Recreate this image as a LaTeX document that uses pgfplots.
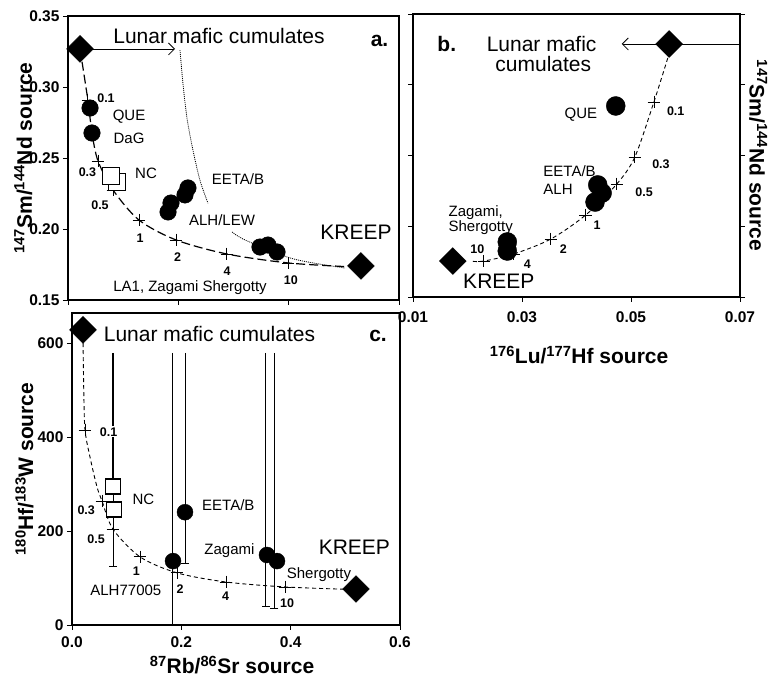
\documentclass[border=0pt]{standalone}
\usepackage{pgfplots}
\pgfplotsset{compat=1.18}
\usepackage{fontspec}
\setmainfont{Liberation Sans}
\usetikzlibrary{arrows.meta}
\newcommand{\fs}[1]{\fontsize{#1}{#1}\selectfont}
\tikzset{
  lbl/.style={font=\fs{15}, anchor=base, inner sep=0pt},
  num/.style={font=\bfseries\fs{12.5}, anchor=base, inner sep=0pt},
  big/.style={font=\fs{21}, anchor=base, inner sep=0pt},
}
\pgfplotsset{
  panel/.style={scale only axis, clip=false, axis line style={line width=1.8pt},
    tick align=outside, major tick length=5pt, scaled ticks=false,
    every tick/.style={black, line width=0.8pt},
    ticklabel style={font=\bfseries\fs{15.5}}},
  dia/.style={only marks, mark=square*, mark size=9.5pt, mark options={rotate=45, fill=black, draw=black}},
  dot/.style={only marks, mark=*, mark options={fill=black, draw=black}},
  crs/.style={only marks, mark=+, mark size=6.3pt, mark options={line width=0.8pt}},
  sq/.style={only marks, mark=square*, mark options={fill=white, draw=black, line width=1.8pt}},
}
\begin{document}
\begin{tikzpicture}
\useasboundingbox (0pt,0pt) rectangle (770pt,679pt);
% ---------------- panel a ----------------
\begin{axis}[panel, at={(68pt,379pt)}, anchor=south west, width=331pt, height=284pt,
  xmin=0, xmax=0.6, ymin=0.15, ymax=0.35,
  xtick={0,0.2,0.4,0.6}, xticklabels={,,,},
  ytick={0.15,0.2,0.25,0.3,0.35}, yticklabels={0.15,0.20,0.25,0.30,0.35},
  tick pos=left,
  every axis y label/.style={at={(axis description cs:-0.135,0.5)}, rotate=90, anchor=center, font=\bfseries\fs{21}},
  ylabel={\textsuperscript{147}Sm/\textsuperscript{144}Nd source}]
\addplot[black, line width=1.2pt, dash pattern=on 9pt off 4pt, smooth, tension=0.5] coordinates {
 (0.0218,0.3268) (0.036,0.2908) (0.0435,0.2676) (0.0544,0.2479) (0.0816,0.2275)
 (0.1287,0.2063) (0.1958,0.1923) (0.288,0.1824) (0.399,0.1761) (0.505,0.1735)};
\addplot[black, line width=0.8pt, dash pattern=on 1pt off 1pt, smooth] coordinates {
 (0.203,0.326) (0.2085,0.302) (0.2157,0.278) (0.2266,0.2553) (0.2393,0.2342) (0.2538,0.2181)};
\addplot[black, line width=0.8pt, dash pattern=on 1pt off 1pt, smooth] coordinates {
 (0.2973,0.1979) (0.3208,0.1923) (0.397,0.1803) (0.4441,0.1761) (0.502,0.1725)};
\addplot[black, line width=0.8pt, -{Straight Barb[length=6pt,width=12pt]}] coordinates {(0.0218,0.3268) (0.194,0.3268)};
\addplot[crs] coordinates {(0.036,0.2908) (0.0544,0.2479) (0.0816,0.2275) (0.1287,0.2063) (0.1958,0.1923) (0.288,0.1824) (0.399,0.1761)};
\addplot[dot, mark size=8.3pt] coordinates {(0.0399,0.2852) (0.0435,0.2676)
 (0.1813,0.212) (0.1867,0.2183) (0.2121,0.224) (0.2175,0.2289)
 (0.348,0.1873) (0.3625,0.1887) (0.3789,0.1838)};
\addplot[sq, mark size=8.5pt] coordinates {(0.0888,0.2331)};
\addplot[sq, mark size=8.5pt] coordinates {(0.078,0.2373)};
\addplot[dia] coordinates {(0.0218,0.3268) (0.531,0.174)};
\node[big] at (axis cs:0.2737,0.3308) {Lunar mafic cumulates};
\node[big, font=\bfseries\fs{21}] at (axis cs:0.5647,0.3284) {a.};
\node[lbl] at (axis cs:0.1106,0.2763) {QUE};
\node[lbl] at (axis cs:0.1106,0.2599) {DaG};
\node[lbl] at (axis cs:0.1414,0.2357) {NC};
\node[lbl] at (axis cs:0.3082,0.231) {EETA/B};
\node[lbl] at (axis cs:0.2792,0.2028) {ALH/LEW};
\node[big] at (axis cs:0.522,0.1927) {KREEP};
\node[lbl] at (axis cs:0.2212,0.1558) {LA1, Zagami Shergotty};
\node[num] at (axis cs:0.0689,0.289) {0.1};
\node[num] at (axis cs:0.0353,0.2368) {0.3};
\node[num] at (axis cs:0.058,0.2139) {0.5};
\node[num] at (axis cs:0.1305,0.1904) {1};
\node[num] at (axis cs:0.1985,0.177) {2};
\node[num] at (axis cs:0.2882,0.1669) {4};
\node[num] at (axis cs:0.4039,0.1606) {10};
\end{axis}
% ---------------- panel b ----------------
\begin{axis}[panel, at={(413pt,382pt)}, anchor=south west, width=327pt, height=283pt,
  xmin=0.01, xmax=0.07, ymin=0.15, ymax=0.35,
  xtick={0.01,0.03,0.05,0.07}, xticklabels={0.01,0.03,0.05,0.07},
  xticklabel style={yshift=-6pt},
  ytick={0.15,0.2,0.25,0.3,0.35}, yticklabels={,,,,},
  xtick pos=left, ytick pos=both,
  every axis x label/.style={at={(axis description cs:0.508,-0.205)}, anchor=center, font=\bfseries\fs{21}},
  xlabel={\textsuperscript{176}Lu/\textsuperscript{177}Hf source},
  every axis y label/.style={at={(axis description cs:1.056,0.5)}, rotate=-90, anchor=center, font=\bfseries\fs{21}},
  ylabel={\textsuperscript{147}Sm/\textsuperscript{144}Nd source}]
\addplot[black, line width=0.9pt, dash pattern=on 4pt off 3pt, smooth, tension=0.5] coordinates {
 (0.021,0.1752) (0.023,0.1754) (0.0285,0.1804) (0.0353,0.191) (0.0417,0.208)
 (0.0474,0.2299) (0.0507,0.2489) (0.0542,0.2878) (0.057,0.322)};
\addplot[black, line width=0.8pt, -{Straight Barb[length=6pt,width=12pt]}] coordinates {(0.07,0.3288) (0.0483,0.3288)};
\addplot[crs] coordinates {(0.023,0.1754) (0.0285,0.1804) (0.0353,0.191) (0.0417,0.208) (0.0474,0.2299) (0.0507,0.2489) (0.0542,0.2878)};
\addplot[dot, mark size=9.5pt] coordinates {(0.0472,0.285)
 (0.0439,0.2292) (0.0447,0.2235) (0.0434,0.2171)
 (0.0273,0.1889) (0.0273,0.1825)};
\addplot[dia] coordinates {(0.057,0.3288) (0.0173,0.1754)};
\node[big, font=\bfseries\fs{21}] at (axis cs:0.0162,0.3234) {b.};
\node[big] at (axis cs:0.0336,0.3234) {Lunar mafic};
\node[big] at (axis cs:0.0339,0.3092) {cumulates};
\node[lbl] at (axis cs:0.0408,0.2763) {QUE};
\node[lbl, anchor=base west] at (axis cs:0.0339,0.235) {EETA/B};
\node[lbl, anchor=base west] at (axis cs:0.0339,0.2226) {ALH};
\node[lbl, anchor=base west] at (axis cs:0.0165,0.2072) {Zagami,};
\node[lbl, anchor=base west] at (axis cs:0.0165,0.1961) {Shergotty};
\node[big] at (axis cs:0.02575,0.1561) {KREEP};
\node[num] at (axis cs:0.0582,0.2786) {0.1};
\node[num] at (axis cs:0.0555,0.241) {0.3};
\node[num] at (axis cs:0.0524,0.2209) {0.5};
\node[num] at (axis cs:0.0438,0.1974) {1};
\node[num] at (axis cs:0.0376,0.1809) {2};
\node[num] at (axis cs:0.031,0.1703) {4};
\node[num] at (axis cs:0.0218,0.1809) {10};
\end{axis}
% ---------------- panel c ----------------
\begin{axis}[panel, at={(72pt,54pt)}, anchor=south west, width=328pt, height=312pt,
  xmin=0, xmax=0.6, ymin=0, ymax=664,
  xtick={0,0.2,0.4,0.6}, xticklabels={0.0,0.2,0.4,0.6},
  xticklabel style={yshift=-3pt},
  ytick={0,200,400,600}, yticklabels={0,200,400,600},
  tick pos=left,
  every axis x label/.style={at={(axis description cs:0.488,-0.128)}, anchor=center, font=\bfseries\fs{21}},
  xlabel={\textsuperscript{87}Rb/\textsuperscript{86}Sr source},
  every axis y label/.style={at={(axis description cs:-0.145,0.5)}, rotate=90, anchor=center, font=\bfseries\fs{21}},
  ylabel={\textsuperscript{180}Hf/\textsuperscript{183}W source}]
\addplot[black, line width=0.9pt, dash pattern=on 4pt off 3pt, smooth, tension=0.5] coordinates {
 (0.0201,615) (0.0215,500) (0.0238,415) (0.033,357) (0.0457,294) (0.0549,264) (0.075,204)
 (0.1244,145) (0.192,111) (0.2817,91.5) (0.3896,81) (0.50,76)};
% error bars
\addplot[black, line width=1.5pt] coordinates {(0.075,579) (0.075,300)};
\addplot[black, line width=0.8pt] coordinates {(0.075,300) (0.075,124)};
\addplot[black, line width=0.8pt] coordinates {(0.183,579) (0.183,0)};
\addplot[black, line width=0.8pt] coordinates {(0.2067,579) (0.2067,132)};
\addplot[black, line width=0.8pt] coordinates {(0.3543,579) (0.3543,40)};
\addplot[black, line width=0.8pt] coordinates {(0.3701,579) (0.3701,36)};
\addplot[only marks, mark=-, mark size=4pt, mark options={line width=0.8pt}] coordinates {(0.075,124) (0.2067,132) (0.3543,40) (0.3701,36)};
\addplot[crs] coordinates {(0.0238,415) (0.0549,264) (0.075,204) (0.1244,145) (0.192,111) (0.2817,91.5) (0.3896,81)};
\addplot[dot, mark size=8pt] coordinates {(0.1848,136) (0.2067,240) (0.3567,149) (0.375,136)};
\addplot[sq, mark size=7.5pt] coordinates {(0.075,294) (0.0768,245)};
\addplot[dia] coordinates {(0.0201,628) (0.5195,76.6)};
\node[big] at (axis cs:0.2515,604) {Lunar mafic cumulates};
\node[big, font=\bfseries\fs{21}] at (axis cs:0.5598,604) {c.};
\node[lbl] at (axis cs:0.1305,257.4) {NC};
\node[lbl] at (axis cs:0.286,244.7) {EETA/B};
\node[lbl] at (axis cs:0.2881,149) {Zagami};
\node[big] at (axis cs:0.5165,149) {KREEP};
\node[lbl] at (axis cs:0.4518,99.3) {Shergotty};
\node[lbl] at (axis cs:0.0985,63.8) {ALH77005};
\node[num, fill=white, inner sep=1pt] at (axis cs:0.0671,402) {0.1};
\node[num] at (axis cs:0.026,236) {0.3};
\node[num] at (axis cs:0.0442,173.8) {0.5};
\node[num] at (axis cs:0.1177,106) {1};
\node[num] at (axis cs:0.1976,67.4) {2};
\node[num] at (axis cs:0.2808,51.8) {4};
\node[num] at (axis cs:0.3933,37.6) {10};
\end{axis}
\end{tikzpicture}
\end{document}
